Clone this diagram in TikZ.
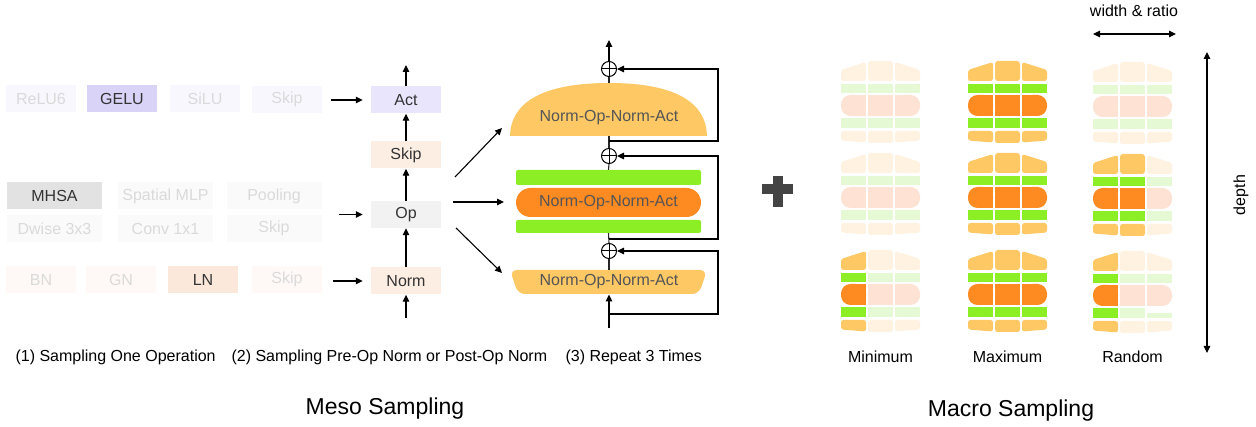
\documentclass[tikz,border=0pt]{standalone}
\usepackage{fontspec}
\setmainfont{Liberation Sans}
\usetikzlibrary{arrows.meta,calc}

% box fills
\definecolor{lavB}{HTML}{E9E5FC}
\definecolor{lavS}{HTML}{D9D3F8}
\definecolor{lavF}{HTML}{F8F7FE}
\definecolor{pchB}{HTML}{FDEEE3}
\definecolor{pchS}{HTML}{FCE8DA}
\definecolor{pchF}{HTML}{FEF9F6}
\definecolor{gryB}{HTML}{F2F2F2}
\definecolor{gryS}{HTML}{E2E2E2}
\definecolor{gryF}{HTML}{FAFAFA}
\definecolor{txtdark}{HTML}{333333}
\definecolor{txtfade}{HTML}{DADADA}
\definecolor{txtbun}{HTML}{555555}
\definecolor{plusgray}{HTML}{444444}
% burger layers: B = sampled, F = not sampled
\definecolor{bunB}{HTML}{FEC865}
\definecolor{patB}{HTML}{FE8A22}
\definecolor{grnB}{HTML}{8CEF26}
\definecolor{bunF}{HTML}{FFF2E1}
\definecolor{patF}{HTML}{FEE3D5}
\definecolor{grnF}{HTML}{E6F9D5}

% a small three-column burger: x, top, left/mid/right state, top of right lower bar
\newcommand\miniburger[6]{%
  \begin{scope}[shift={(#1,#2)}]
    % top bun
    \fill[bun#3, rounded corners=2.5] (0,20) -- (0,9) -- (25,1) -- (25,20) -- cycle;
    \fill[bun#4, rounded corners=3] (27,0) rectangle (52,20);
    \fill[bun#5, rounded corners=2.5] (54,20) -- (54,1) -- (79,9) -- (79,20) -- cycle;
    % upper bar
    \fill[grn#3] (0,23) rectangle (25,32);
    \fill[grn#4] (27,23) rectangle (52,32);
    \fill[grn#5] (54,23) rectangle (79,32);
    % patty
    \fill[pat#3, rounded corners=9.5] (0,34) rectangle (25,55);
    \fill[pat#3] (12,34) rectangle (25,55);
    \fill[pat#4] (27,34) rectangle (52,55);
    \fill[pat#5, rounded corners=9.5] (54,34) rectangle (79,55);
    \fill[pat#5] (54,34) rectangle (66,55);
    % lower bar
    \fill[grn#3] (0,57) rectangle (25,67);
    \fill[grn#4] (27,57) rectangle (52,67);
    \fill[grn#5] (54,#6) rectangle (79,67);
    % bottom bun
    \fill[bun#3, rounded corners=2.5] (0,70) -- (25,70) -- (25,81.5) -- (0,79.5) -- cycle;
    \fill[bun#4, rounded corners=2.5] (27,70) rectangle (52,82);
    \fill[bun#5, rounded corners=2.5] (54,70) -- (79,70) -- (79,79.5) -- (54,81.5) -- cycle;
  \end{scope}}

\begin{document}
\begin{tikzpicture}[x=1pt, y=-1pt,
  font=\fontsize{16}{19}\selectfont,
  box/.style={minimum width=70, minimum height=27, inner sep=0, text=txtdark},
  wbox/.style={box, minimum width=95},
  faded/.style={text=txtfade},
  tip/.tip={Triangle[length=7pt,width=6.5pt]},
  arr/.style={-tip, line width=1.1pt, black},
  dbl/.style={tip-tip, line width=1.1pt, black},
  flow/.style={line width=1.1pt, black!85},
  sum/.style={circle, draw=black, line width=1pt, minimum size=15, inner sep=0},
  lbl/.style={text=black},
  bigl/.style={text=black, font=\fontsize{23}{27}\selectfont}]

\useasboundingbox (0,0) rectangle (1256,427);
\fill[white] (0,0) rectangle (1256,427);

% ---------- (1) choices for each slot ----------
\node[box, faded, fill=lavF] (relu)  at (41,98.5)  {ReLU6};
\node[box, fill=lavS]        (gelu)  at (122,98.5) {GELU};
\node[box, faded, fill=lavF] (silu)  at (205,98.5) {SiLU};
\node[box, faded, fill=lavF] (askip) at (287,99.5) {Skip};

\node[wbox, fill=gryS]        (mhsa)  at (54.5,196) {MHSA};
\node[wbox, faded, fill=gryF] (smlp)  at (165.5,196) {Spatial MLP};
\node[wbox, faded, fill=gryF] (pool)  at (274,196) {Pooling};
\node[wbox, faded, fill=gryF] (dw)    at (54.5,228.5) {Dwise 3x3};
\node[wbox, faded, fill=gryF] (conv)  at (165.5,228.5) {Conv 1x1};
\node[wbox, faded, fill=gryF] (oskip) at (274,228.5) {Skip};

\node[box, faded, fill=pchF] (bn)    at (41,279.5)  {BN};
\node[box, faded, fill=pchF] (gn)    at (121,279.5) {GN};
\node[box, fill=pchS]        (ln)    at (203,279.5) {LN};
\node[box, faded, fill=pchF] (nskip) at (287,279.5) {Skip};

% ---------- (2) the sampled block ----------
\node[box, fill=lavB] (act)  at (406,100)   {Act};
\node[box, fill=pchB] (skip) at (406,155)   {Skip};
\node[box, fill=gryB] (op)   at (406,214.5) {Op};
\node[box, fill=pchB] (norm) at (406,281)   {Norm};

\coordinate (actin)  at (331,100);
\coordinate (opin)   at (339,214.5);
\coordinate (normin) at (333,281);
\draw[arr, shorten >=8pt] (actin) -- (act.west);
\draw[arr, shorten >=8pt] (opin) -- (op.west);
\draw[arr, shorten >=8pt] (normin) -- (norm.west);

\coordinate (colin)  at (406,318);
\coordinate (colout) at (406,65);
\draw[arr] (colin) -- (norm.south);
\draw[arr] (norm.north) -- (op.south);
\draw[arr] (op.north) -- (skip.south);
\draw[arr] (skip.north) -- (act.south);
\draw[arr] (act.north) -- (colout);

% ---------- (3) three stacked blocks with residuals ----------
\fill[bunB] (510,136) .. controls (511,96) and (555,83) .. (609,83)
                      .. controls (663,83) and (706,96) .. (707,136) -- cycle;
\node[text=txtbun] (topbun) at (609,118) {Norm-Op-Norm-Act};

\node[fill=grnB, minimum width=185, minimum height=15, inner sep=0, rounded corners=2] (g1) at (608.5,177.5) {};
\node[fill=patB, minimum width=185, minimum height=29, inner sep=0, rounded corners=14.5, text=txtbun] (patty) at (608.5,202.5) {Norm-Op-Norm-Act};
\node[fill=grnB, minimum width=185, minimum height=13, inner sep=0, rounded corners=2] (g2) at (608.5,226.5) {};

\fill[bunB, rounded corners=7] (510,270) -- (707,270) -- (699,294) -- (518,294) -- cycle;
\node[text=txtbun] (botbun) at (609,282) {Norm-Op-Norm-Act};

\node[sum] (c1) at (609,69) {};
\node[sum] (c2) at (609,156) {};
\node[sum] (c3) at (609,251) {};
\foreach \c in {c1,c2,c3}
  \draw[line width=1pt] (\c.north) -- (\c.south) (\c.west) -- (\c.east);

\coordinate (in)     at (609,328);
\coordinate (bbS)    at (609,294.5);
\coordinate (bbN)    at (609,270);
\coordinate (tbS)    at (609,136);
\coordinate (tbN)    at (609,83);
\coordinate (out)    at (609,40);
\coordinate (r3)     at (609,314);
\coordinate (r2)     at (609,239);
\coordinate (r1)     at (609,141);

\draw[arr] (in) -- (bbS);
\draw[flow] (bbN) -- (c3.south);
\draw[flow] (c3.north) -- (g2.south);
\draw[flow] (g1.north) -- (c2.south);
\draw[flow] (c2.north) -- (tbS);
\draw[flow] (tbN) -- (c1.south);
\draw[arr] (c1.north) -- (out);

\draw[arr] (r3) -- (718,314) -- (718,251) -- (c3.east);
\draw[arr] (r2) -- (718,239) -- (718,156) -- (c2.east);
\draw[arr] (r1) -- (718,141) -- (718,69) -- (c1.east);

% fan-out from the sampled block
\coordinate (f0) at (455,177);
\coordinate (f1) at (502,128);
\coordinate (m0) at (453,202);
\coordinate (m1) at (504,202);
\coordinate (b0) at (456,228);
\coordinate (b1) at (502,273);
\draw[arr] (f0) -- (f1);
\draw[arr] (m0) -- (m1);
\draw[arr] (b0) -- (b1);

% captions
\node[lbl, anchor=west] (cap1) at (12,357) {(1) Sampling One Operation};
\node[lbl, anchor=west] (cap2) at (228,357) {(2) Sampling Pre-Op Norm or Post-Op Norm};
\node[lbl, anchor=west] (cap3) at (562,357) {(3) Repeat 3 Times};
\node[bigl] (meso) at (385,409) {Meso Sampling};

% ---------- plus ----------
\fill[plusgray] (762,184) rectangle (793,194);
\fill[plusgray] (773,176) rectangle (782.5,207);

% ---------- macro sampling ----------
\miniburger{841}{61}{F}{F}{F}{57}
\miniburger{841}{153}{F}{F}{F}{57}
\miniburger{841}{250}{B}{F}{F}{57}

\miniburger{968}{61}{B}{B}{B}{57}
\miniburger{968}{153}{B}{B}{B}{57}
\miniburger{968}{250}{B}{B}{B}{57}

\miniburger{1093}{62}{F}{F}{F}{57}
\miniburger{1093}{154}{B}{B}{F}{57}
\miniburger{1093}{251}{B}{F}{F}{62.5}

\coordinate (wl) at (1093,34);
\coordinate (wr) at (1176,34);
\draw[dbl] (wl) -- (wr);
\node[lbl] (wlab) at (1134,11) {width \& ratio};

\coordinate (dt) at (1207,52);
\coordinate (db) at (1207,353);
\draw[dbl] (dt) -- (db);
\node[lbl, rotate=90] (dlab) at (1241,195) {depth};

\node[lbl] (minl) at (880.5,357) {Minimum};
\node[lbl] (maxl) at (1007.5,357) {Maximum};
\node[lbl] (rndl) at (1132.5,357) {Random};
\node[bigl] (macro) at (1011,411) {Macro Sampling};

\end{tikzpicture}
\end{document}
